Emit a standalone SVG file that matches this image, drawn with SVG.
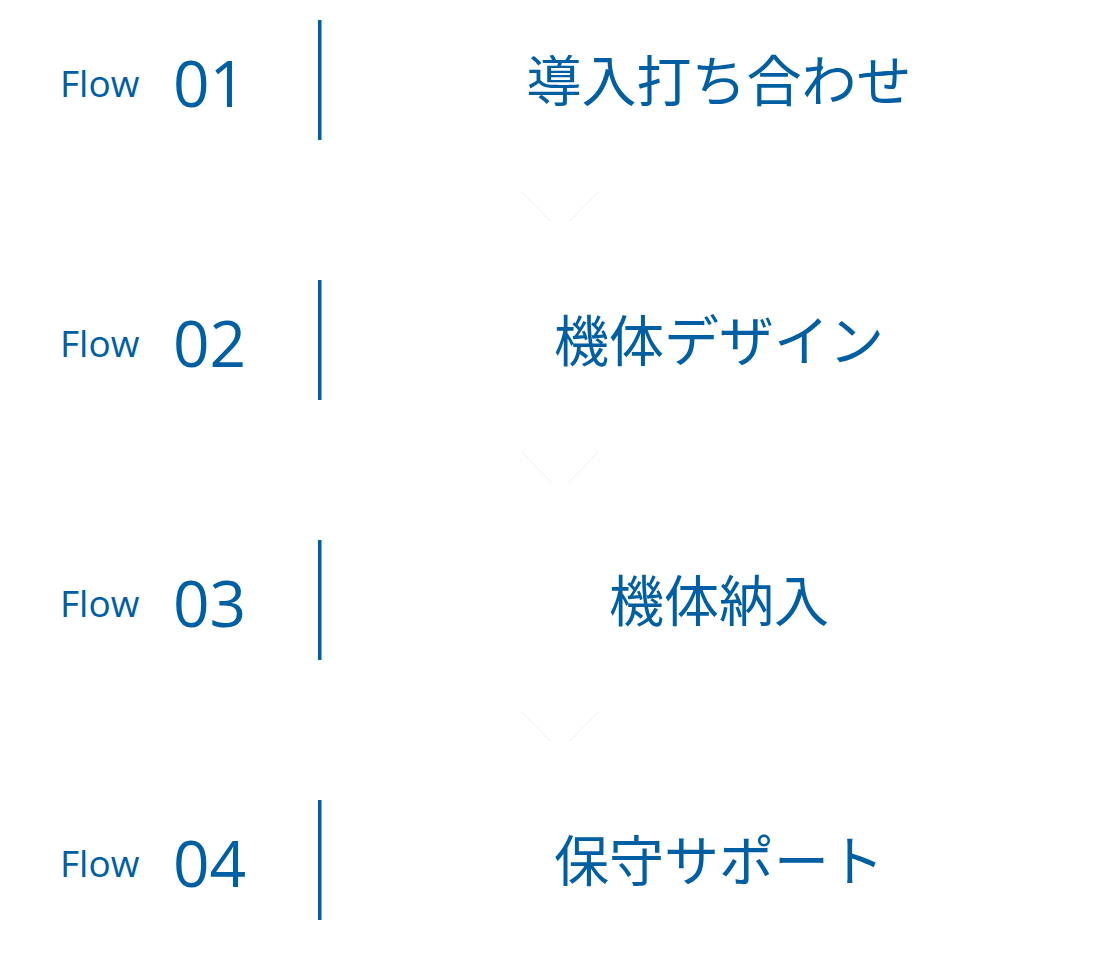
<svg xmlns="http://www.w3.org/2000/svg" width="1120" height="957" viewBox="0 0 1120 957">
<style>
.flow{font-family:"Open Sans","Noto Sans",sans-serif;font-size:37px;fill:#005ea3}
.num{font-family:"Open Sans","Noto Sans",sans-serif;font-size:64px;fill:#005ea3}
.ttl{font-family:"Noto Sans CJK JP","Noto Sans",sans-serif;font-size:55px;fill:#005ea3;text-anchor:middle}
.bar{fill:#005ea3}
.chev{fill:none;stroke:#eef2f6;stroke-width:1}
</style>
<rect width="1120" height="957" fill="#ffffff"/>
<g id="connectors">
<path class="chev" d="M522,192 L551,222 M569,222 L598,192"/>
<path class="chev" d="M522,452 L551,482 M569,482 L598,452"/>
<path class="chev" d="M522,712 L551,742 M569,742 L598,712"/>
</g>
<g id="step1">
<text class="flow" x="60" y="97">Flow</text>
<text class="num" x="173" y="107">01</text>
<rect class="bar" x="318" y="20" width="3.5" height="120"/>
<text class="ttl" x="719" y="101">導入打ち合わせ</text>
</g>
<g id="step2">
<text class="flow" x="60" y="357">Flow</text>
<text class="num" x="173" y="367">02</text>
<rect class="bar" x="318" y="280" width="3.5" height="120"/>
<text class="ttl" x="719" y="361">機体デザイン</text>
</g>
<g id="step3">
<text class="flow" x="60" y="617">Flow</text>
<text class="num" x="173" y="627">03</text>
<rect class="bar" x="318" y="540" width="3.5" height="120"/>
<text class="ttl" x="719" y="621">機体納入</text>
</g>
<g id="step4">
<text class="flow" x="60" y="877">Flow</text>
<text class="num" x="173" y="887">04</text>
<rect class="bar" x="318" y="800" width="3.5" height="120"/>
<text class="ttl" x="719" y="881">保守サポート</text>
</g>
</svg>
